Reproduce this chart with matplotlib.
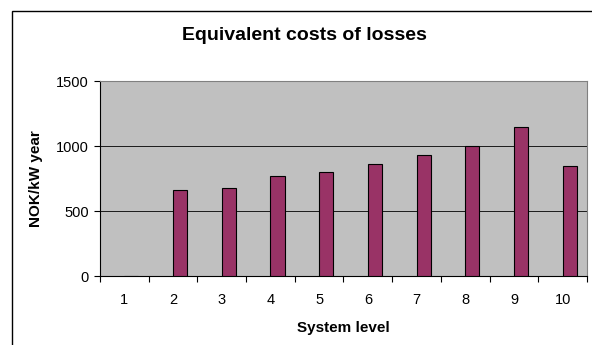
import numpy as np
import matplotlib.pyplot as plt
import matplotlib.patches as patches

plt.rcParams['font.family'] = ['Liberation Sans', 'DejaVu Sans']

levels = ['1', '2', '3', '4', '5', '6', '7', '8', '9', '10']
costs = [0, 660, 680, 770, 800, 860, 930, 1000, 1150, 850]
yticks = [0, 500, 1000, 1500]

W, H = 592, 345
fig = plt.figure(figsize=(W / 100, H / 100), dpi=100)

# chart frame (runs off the right/bottom edge)
fig.patches.append(patches.Rectangle((12 / W, -0.1), 1.2, 1 - 11 / H + 0.1,
                                     transform=fig.transFigure, fill=False,
                                     edgecolor='black', linewidth=1.0))

ax = fig.add_axes([100 / W, 1 - 276 / H, (587 - 100) / W, (276 - 81) / H])
ax.set_facecolor('#C0C0C0')

x = np.arange(len(levels))
ax.bar(x, costs, width=0.29, align='edge', color='#993366',
       edgecolor='black', linewidth=0.8, zorder=3)

ax.set_xlim(-0.5, len(levels) - 0.5)
ax.set_ylim(0, 1500)
ax.set_yticks(yticks)
ax.set_yticklabels([str(v) for v in yticks], fontsize=10.5)
ax.set_xticks(x)
ax.set_xticklabels(levels, fontsize=10.5)
ax.set_xticks(np.arange(len(levels) + 1) - 0.5, minor=True)
ax.tick_params(axis='x', which='major', length=0, pad=12)
ax.tick_params(axis='x', which='minor', length=4, width=0.8)
ax.tick_params(axis='y', length=4, width=0.8, pad=4)

for v in [500, 1000]:
    ax.axhline(v, color='black', linewidth=0.6, zorder=1)

for side in ['top', 'right']:
    ax.spines[side].set_color('#808080')
    ax.spines[side].set_linewidth(0.8)
for side in ['left', 'bottom']:
    ax.spines[side].set_color('black')
    ax.spines[side].set_linewidth(0.8)

ax.set_ylabel('NOK/kW year', fontsize=11, fontweight='bold')
ax.yaxis.set_label_coords((36 - 100) / 487, 0.5)
ax.set_xlabel('System level', fontsize=11, fontweight='bold')
ax.xaxis.set_label_coords(0.5, -(328 - 276) / 195, )
ax.xaxis.label.set_va('center')
ax.yaxis.label.set_va('center')
fig.text(304 / W, 1 - 35 / H, 'Equivalent costs of losses', ha='center',
         va='center', fontsize=14, fontweight='bold')

fig.savefig('out.png', dpi=100)
